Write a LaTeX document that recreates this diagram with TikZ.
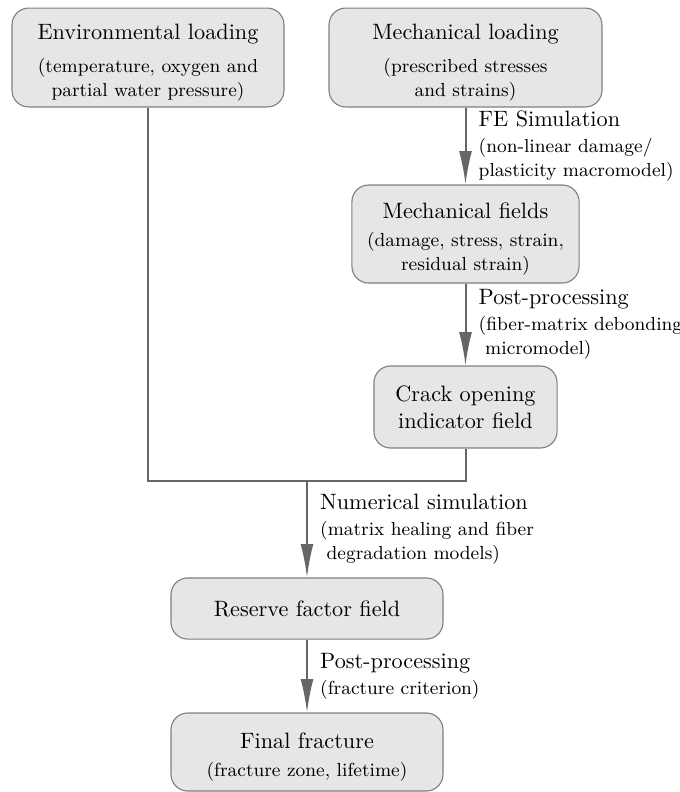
\documentclass[tikz,border=0pt]{standalone}
\usepackage{tikz}
\usetikzlibrary{arrows.meta,positioning}
\definecolor{boxfill}{HTML}{E6E6E6}
\definecolor{boxline}{HTML}{7F7F7F}
\definecolor{flowline}{HTML}{666666}
\newcommand{\subtext}{\fontsize{8.5}{10.8}\selectfont}
\newcommand{\lowertitle}{\rule{0pt}{11.5pt}}
\begin{document}
\begin{tikzpicture}[x=0.45pt,y=-0.45pt,
    block/.style={rectangle, rounded corners=7.5pt, draw=boxline, line width=0.5pt, fill=boxfill, align=center, font=\subtext, inner sep=2pt},
    flow/.style={draw=flowline, line width=0.9pt},
    flowarrow/.style={flow, -{Latex[length=15pt,width=5.8pt]}},
    steplabel/.style={right, align=left, font=\subtext, inner xsep=5.5pt}]
    \useasboundingbox (0,0) rectangle (680,792);

    \node[block, minimum width=122.4pt, minimum height=44.5pt] (env) at (148,57.5)
        {\lowertitle{\normalsize Environmental loading}\\[4pt](temperature, oxygen and\\partial water pressure)};
    \node[block, minimum width=122.8pt, minimum height=44.5pt] (mload) at (465.5,57.5)
        {\lowertitle{\normalsize Mechanical loading}\\[4pt](prescribed stresses\\and strains)};
    \node[block, minimum width=102.2pt, minimum height=44.1pt] (mfield) at (465.5,234)
        {\lowertitle{\normalsize Mechanical fields}\\[2pt](damage, stress, strain,\\residual strain)};
    \node[block, font=\normalsize, minimum width=82.4pt, minimum height=36.9pt] (crack) at (465.5,407)
        {Crack opening\\indicator field};
    \node[block, font=\normalsize, minimum width=122.4pt, minimum height=27.5pt] (reserve) at (307,608.5)
        {Reserve factor field};
    \node[block, minimum width=122.4pt, minimum height=35.1pt] (final) at (307,752)
        {\lowertitle{\normalsize Final fracture}\\[2pt](fracture zone, lifetime)};

    \coordinate (join) at (307,481);

    \draw[flowarrow] (mload) -- (mfield)
        node[midway, steplabel] {{\normalsize FE Simulation}\\[1pt](non-linear damage/\\plasticity macromodel)};
    \draw[flowarrow] (mfield) -- (crack)
        node[midway, steplabel] {{\normalsize Post-processing}\\[1pt](fiber-matrix debonding\\\ micromodel)};
    \draw[flow] (env.south) |- (join) -| (crack.south);
    \draw[flowarrow] (join) -- (reserve)
        node[midway, steplabel] {{\normalsize Numerical simulation}\\[1pt](matrix healing and fiber\\\ degradation models)};
    \draw[flowarrow] (reserve) -- (final)
        node[midway, steplabel] {{\normalsize Post-processing}\\[1pt](fracture criterion)};
\end{tikzpicture}
\end{document}
